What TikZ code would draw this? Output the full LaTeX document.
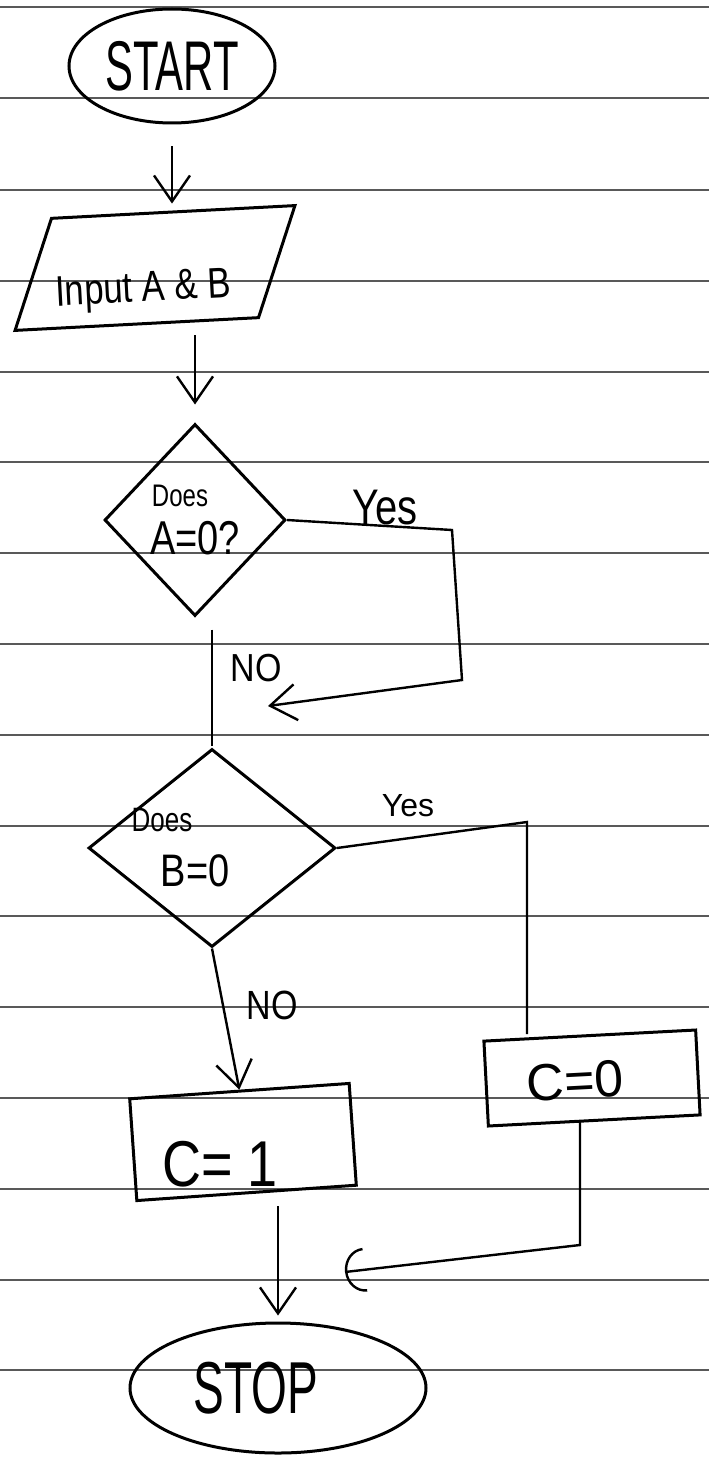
\documentclass[tikz,border=0pt]{standalone}
\usepackage{fontspec}
\usepackage{graphicx}
\setmainfont{Liberation Sans}
\usetikzlibrary{shapes.geometric,arrows.meta}
\newcommand\myfs[1]{\fontsize{#1}{#1}\selectfont}
\begin{document}
\begin{tikzpicture}[x=1pt,y=-1pt,
 rule/.style={draw=black!65,line width=1.4pt},
 shp/.style={draw=black,line width=3pt,inner sep=0pt},
 conn/.style={draw=black,line width=2.4pt},
 arr/.style={conn,-{Straight Barb[length=26pt,width=36pt,line width=2.4pt]}},
 lab/.style={inner sep=0pt}
]
\useasboundingbox (0,0) rectangle (709,1458);
\foreach \yy in {7,98,190,281,372,462,553,644,735,826,916,1007,1098,1189,1280,1370}
  \draw[rule] (0,\yy) -- (709,\yy);

% shapes
\node[shp,ellipse,minimum width=206pt,minimum height=114pt] (start) at (172,66)
  {\myfs{44}\raisebox{-6pt}{\scalebox{0.95}[1.6]{START}}};
\node[shp,trapezium,trapezium left angle=69,trapezium right angle=111,
  trapezium stretches body=true,minimum width=286pt,text height=88pt,text depth=22pt,rotate=3] (inp) at (155,268)
  {\makebox[0pt]{\myfs{33}\scalebox{1.05}[1.3]{Input A \& B}\kern26pt}};
\node[shp,diamond,minimum width=181pt,minimum height=192pt,align=center] (d1) at (195,520)
  {\makebox[0pt]{\myfs{24}\scalebox{1}[1.3]{Does}\kern30pt}\\[14pt]\makebox[0pt]{\myfs{38}\scalebox{1}[1.25]{A=0?}}};
\node[shp,diamond,minimum width=247pt,minimum height=198pt,align=center] (d2) at (212,848)
  {\makebox[0pt]{\myfs{26}\scalebox{1}[1.3]{Does}\kern100pt}\\[22pt]\makebox[0pt]{\myfs{38}\scalebox{1}[1.2]{B=0}\kern34pt}};
\node[shp,rectangle,minimum width=220pt,minimum height=102pt,rotate=4] (c1) at (243,1142)
  {\rotatebox{-4}{\raisebox{-44pt}[0pt][0pt]{\makebox[0pt]{\myfs{54}\scalebox{1}[1.2]{C= 1}\kern46pt}}}};
\node[shp,rectangle,minimum width=212pt,minimum height=85pt,rotate=3] (c0) at (592,1078)
  {\raisebox{-20pt}[0pt][0pt]{\makebox[0pt]{\myfs{52}C=0\kern34pt}}};
\node[shp,ellipse,minimum width=296pt,minimum height=130pt] (stop) at (278,1388)
  {\makebox[0pt]{\myfs{46}\scalebox{1}[1.6]{STOP}\kern44pt}};

% labels
\node[lab] (yes1) at (385,508) {\myfs{40}\scalebox{1}[1.25]{Yes}};
\node[lab] (no1) at (256,668) {\myfs{34}\scalebox{1}[1.15]{NO}};
\node[lab] (yes2) at (408,806) {\myfs{32}Yes};
\node[lab] (no2) at (272,1005) {\myfs{34}\scalebox{1}[1.2]{NO}};

% connectors
\draw[arr,shorten <=22pt,shorten >=8pt] (start.south) -- (start.south |- inp.north);
\draw[arr,shorten <=11pt,shorten >=18pt] (inp.south -| d1.north) -- (d1.north);
\coordinate (j1) at (268,706);
\draw[arr] (d1.east) -- (452,530) -- (462,680) -- (j1);
\draw[conn,shorten <=12pt,shorten >=2pt] (d2.north |- d1.south) -- (d2.north);
\coordinate (y2) at (527,822);
\draw[conn] (d2.east) -- (y2) -- (y2 |- c0.north);
\draw[arr] (d2.south) -- (c1.north);
\draw[arr,shorten <=12pt,shorten >=6pt] (c1.south -| stop.north) -- (stop.north);
\coordinate (k) at (580,1245);
\coordinate (j2) at (345,1272);
\draw[conn,-{Arc Barb[length=20pt,width=44pt,line width=2.4pt]}] (k |- c0.south) -- (k) -- (j2);
\end{tikzpicture}
\end{document}
